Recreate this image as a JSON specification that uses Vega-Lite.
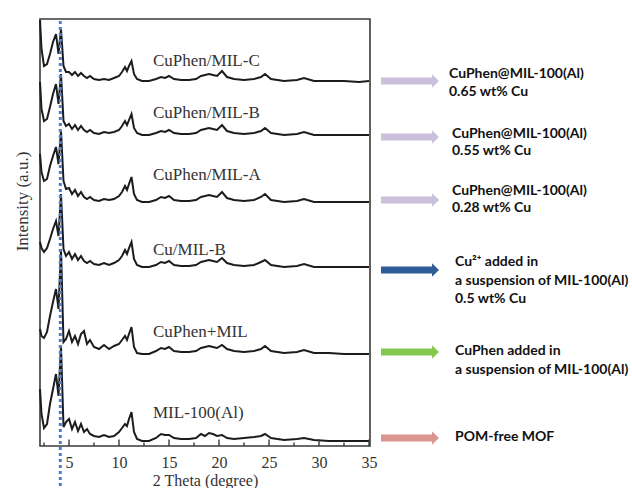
{
  "$schema": "https://vega.github.io/schema/vega-lite/v6.json",
  "padding": {"left": 12, "top": 15, "right": 0, "bottom": 0},
  "bounds": "flush",
  "spacing": 5,
  "config": {"view": {"stroke": null}, "font": "Liberation Serif"},
  "hconcat": [
    {
      "width": 330,
      "height": 427,
      "view": {"stroke": "#3a3a3a", "strokeWidth": 1.6},
      "layer": [
        {
          "data": {"values": [
            {"x":2.1,"c":426,"b":364,"a":292,"u":204,"p":117,"m":57},
            {"x":2.25,"c":397,"b":337,"a":274,"u":198,"p":110,"m":32},
            {"x":2.5,"c":380,"b":325,"a":265,"u":194,"p":108,"m":18},
            {"x":2.8,"c":382,"b":327,"a":267,"u":198,"p":114,"m":22},
            {"x":3.1,"c":392,"b":339,"a":280,"u":207,"p":130,"m":42},
            {"x":3.4,"c":404,"b":352,"a":290,"u":217,"p":144,"m":57},
            {"x":3.7,"c":412,"b":362,"a":299,"u":225,"p":157,"m":72},
            {"x":3.95,"c":392,"b":342,"a":282,"u":210,"p":137,"m":50},
            {"x":4.2,"c":417,"b":372,"a":315,"u":252,"p":197,"m":100},
            {"x":4.45,"c":380,"b":325,"a":265,"u":197,"p":104,"m":19},
            {"x":4.7,"c":374,"b":320,"a":257,"u":190,"p":107,"m":24},
            {"x":5.0,"c":374,"b":322,"a":258,"u":194,"p":115,"m":27},
            {"x":5.3,"c":371,"b":317,"a":252,"u":187,"p":104,"m":17},
            {"x":5.6,"c":374,"b":321,"a":256,"u":192,"p":110,"m":24},
            {"x":5.9,"c":370,"b":316,"a":250,"u":186,"p":102,"m":15},
            {"x":6.2,"c":373,"b":320,"a":254,"u":190,"p":112,"m":22},
            {"x":6.5,"c":370,"b":316,"a":249,"u":185,"p":115,"m":14},
            {"x":6.8,"c":368,"b":314,"a":247,"u":183,"p":102,"m":17},
            {"x":7.1,"c":370,"b":316,"a":249,"u":185,"p":106,"m":12},
            {"x":7.5,"c":367,"b":313,"a":246,"u":182,"p":99,"m":10},
            {"x":8.0,"c":366,"b":312,"a":245,"u":181,"p":97,"m":9},
            {"x":8.5,"c":367,"b":314,"a":247,"u":183,"p":101,"m":11},
            {"x":9.0,"c":366,"b":313,"a":246,"u":181,"p":97,"m":9},
            {"x":9.5,"c":368,"b":314,"a":247,"u":183,"p":100,"m":10},
            {"x":10.0,"c":370,"b":316,"a":250,"u":186,"p":102,"m":14},
            {"x":10.3,"c":374,"b":320,"a":254,"u":190,"p":106,"m":18},
            {"x":10.6,"c":379,"b":325,"a":260,"u":196,"p":110,"m":22},
            {"x":10.8,"c":375,"b":321,"a":256,"u":192,"p":106,"m":20},
            {"x":11.0,"c":380,"b":326,"a":262,"u":198,"p":112,"m":27},
            {"x":11.25,"c":385,"b":332,"a":269,"u":204,"p":119,"m":34},
            {"x":11.5,"c":372,"b":318,"a":252,"u":187,"p":99,"m":14},
            {"x":11.8,"c":367,"b":313,"a":246,"u":181,"p":93,"m":7},
            {"x":12.3,"c":365,"b":311,"a":244,"u":179,"p":92,"m":5},
            {"x":13.0,"c":365,"b":311,"a":244,"u":179,"p":92,"m":5},
            {"x":13.7,"c":367,"b":313,"a":246,"u":181,"p":95,"m":8},
            {"x":14.2,"c":369,"b":315,"a":249,"u":184,"p":98,"m":12},
            {"x":14.6,"c":368,"b":314,"a":248,"u":183,"p":97,"m":11},
            {"x":15.0,"c":370,"b":316,"a":250,"u":185,"p":99,"m":11},
            {"x":15.5,"c":367,"b":313,"a":246,"u":181,"p":95,"m":8},
            {"x":16.2,"c":366,"b":312,"a":245,"u":180,"p":94,"m":7},
            {"x":17.0,"c":366,"b":312,"a":245,"u":180,"p":94,"m":7},
            {"x":17.7,"c":367,"b":313,"a":246,"u":181,"p":95,"m":8},
            {"x":18.2,"c":370,"b":316,"a":249,"u":184,"p":98,"m":12},
            {"x":18.6,"c":371,"b":317,"a":250,"u":185,"p":99,"m":10},
            {"x":19.0,"c":372,"b":318,"a":251,"u":186,"p":100,"m":13},
            {"x":19.4,"c":371,"b":317,"a":250,"u":185,"p":99,"m":12},
            {"x":19.8,"c":370,"b":316,"a":249,"u":184,"p":98,"m":10},
            {"x":20.3,"c":375,"b":321,"a":254,"u":188,"p":101,"m":11},
            {"x":20.8,"c":369,"b":315,"a":248,"u":183,"p":97,"m":8},
            {"x":21.5,"c":367,"b":313,"a":246,"u":181,"p":95,"m":7},
            {"x":22.5,"c":366,"b":312,"a":245,"u":180,"p":94,"m":8},
            {"x":23.5,"c":367,"b":313,"a":246,"u":181,"p":95,"m":9},
            {"x":24.2,"c":369,"b":315,"a":249,"u":184,"p":97,"m":10},
            {"x":24.6,"c":372,"b":318,"a":252,"u":186,"p":100,"m":12},
            {"x":25.2,"c":367,"b":313,"a":246,"u":181,"p":95,"m":8},
            {"x":26.5,"c":365,"b":311,"a":244,"u":179,"p":93,"m":6},
            {"x":27.8,"c":366,"b":312,"a":245,"u":180,"p":94,"m":7},
            {"x":28.5,"c":368,"b":314,"a":247,"u":182,"p":96,"m":8},
            {"x":29.5,"c":365,"b":311,"a":244,"u":179,"p":93,"m":6},
            {"x":31,"c":365,"b":311,"a":244,"u":179,"p":93,"m":5},
            {"x":32.5,"c":365,"b":311,"a":244,"u":179,"p":92,"m":5},
            {"x":34,"c":364,"b":311,"a":244,"u":179,"p":92,"m":5},
            {"x":35,"c":365,"b":311,"a":244,"u":179,"p":92,"m":5}
          ]},
          "transform": [{"fold": ["c","b","a","u","p","m"], "as": ["series","v"]}],
          "mark": {"type": "line", "color": "#1c1c1c", "strokeWidth": 2},
          "encoding": {
            "x": {
              "field": "x", "type": "quantitative",
              "scale": {"domain": [2.1, 35.1], "nice": false, "zero": false},
              "title": "2 Theta (degree)",
              "axis": {
                "values": [5,10,15,20,25,30,35],
                "ticks": false,
                "domain": false, "grid": false,
                "labelOverlap": false, "labelFlush": false,
                "labelFont": "Liberation Serif", "labelFontSize": 16, "labelColor": "#333333",
                "labelPadding": 8,
                "titleFont": "Liberation Serif", "titleFontSize": 16, "titleFontWeight": "normal",
                "titleColor": "#333333", "titlePadding": 2
              }
            },
            "y": {
              "field": "v", "type": "quantitative",
              "scale": {"domain": [0, 427], "nice": false},
              "title": "Intensity (a.u.)",
              "axis": {
                "labels": false, "ticks": false, "domain": false, "grid": false,
                "titleFont": "Liberation Serif", "titleFontSize": 17, "titleFontWeight": "normal",
                "titleColor": "#333333", "titleX": -13, "titleY": 182, "titleBaseline": "alphabetic"
              }
            },
            "detail": {"field": "series"}
          }
        },
        {
          "data": {"values": [
            {"t":2.5,"k":"minor"},{"t":5,"k":"major"},{"t":7.5,"k":"minor"},{"t":10,"k":"major"},
            {"t":12.5,"k":"minor"},{"t":15,"k":"major"},{"t":17.5,"k":"minor"},{"t":20,"k":"major"},
            {"t":22.5,"k":"minor"},{"t":25,"k":"major"},{"t":27.5,"k":"minor"},{"t":30,"k":"major"},
            {"t":32.5,"k":"minor"},{"t":35,"k":"major"}
          ]},
          "mark": {"type": "tick", "orient": "vertical", "thickness": 1.4, "color": "#3a3a3a", "opacity": 1, "clip": true},
          "encoding": {
            "x": {"field": "t", "type": "quantitative", "title": "2 Theta (degree)"},
            "y": {"datum": 0, "type": "quantitative"},
            "size": {"field": "k", "type": "nominal", "scale": {"domain": ["major","minor"], "range": [13, 7]}, "legend": null}
          }
        },
        {
          "data": {"values": [
            {"x":13.4,"v":385,"t":"CuPhen/MIL-C"},
            {"x":13.4,"v":333,"t":"CuPhen/MIL-B"},
            {"x":13.4,"v":271,"t":"CuPhen/MIL-A"},
            {"x":13.4,"v":196,"t":"Cu/MIL-B"},
            {"x":13.4,"v":114,"t":"CuPhen+MIL"},
            {"x":13.4,"v":33,"t":"MIL-100(Al)"}
          ]},
          "mark": {"type": "text", "align": "left", "baseline": "middle", "font": "Liberation Serif", "fontSize": 17, "color": "#333333"},
          "encoding": {
            "x": {"field": "x", "type": "quantitative", "title": "2 Theta (degree)"},
            "y": {"field": "v", "type": "quantitative", "title": "Intensity (a.u.)"},
            "text": {"field": "t"}
          }
        },
        {
          "data": {"values": [{"x": 4.13, "top": 425, "bottom": -46}]},
          "mark": {"type": "rule", "color": "#4A7FD0", "strokeWidth": 3, "strokeDash": [3, 3]},
          "encoding": {
            "x": {"field": "x", "type": "quantitative", "title": "2 Theta (degree)"},
            "y": {"field": "top", "type": "quantitative", "title": "Intensity (a.u.)"},
            "y2": {"field": "bottom"}
          }
        }
      ]
    },
    {
      "width": 252,
      "height": 427,
      "view": {"stroke": null},
      "layer": [
        {
          "data": {"values": [
            {"k":"lav","x":35,"v":365},
            {"k":"lav","x":35,"v":309},
            {"k":"lav","x":35,"v":246},
            {"k":"blue","x":35,"v":176},
            {"k":"green","x":35,"v":94},
            {"k":"red","x":35,"v":8}
          ]},
          "mark": {"type": "point", "shape": "M-1,-0.12L0.76,-0.12L0.76,-0.23L1,0L0.76,0.23L0.76,0.12L-1,0.12Z", "size": 3364, "filled": true, "opacity": 1, "strokeWidth": 0},
          "encoding": {
            "x": {"field": "x", "type": "quantitative", "scale": {"domain": [0, 252], "nice": false}, "axis": null},
            "y": {"field": "v", "type": "quantitative", "scale": {"domain": [0, 427], "nice": false}, "axis": null},
            "color": {"field": "k", "type": "nominal", "scale": {"domain": ["lav","blue","green","red"], "range": ["#CBC0DB","#2F5C96","#86C84F","#DB9591"]}, "legend": null}
          }
        },
        {
          "data": {"values": [
            {"x":74,"v":372,"t":"CuPhen@MIL-100(Al)"},
            {"x":74,"v":354,"t":"0.65 wt% Cu"},
            {"x":77,"v":312,"t":"CuPhen@MIL-100(Al)"},
            {"x":77,"v":295,"t":"0.55 wt% Cu"},
            {"x":77,"v":255,"t":"CuPhen@MIL-100(Al)"},
            {"x":77,"v":238,"t":"0.28 wt% Cu"},
            {"x":80,"v":184,"t":"Cu²⁺ added in"},
            {"x":80,"v":165,"t":"a suspension of MIL-100(Al)"},
            {"x":80,"v":147,"t":"0.5 wt% Cu"},
            {"x":80,"v":95,"t":"CuPhen added in"},
            {"x":80,"v":76,"t":"a suspension of MIL-100(Al)"},
            {"x":80,"v":9,"t":"POM-free MOF"}
          ]},
          "mark": {"type": "text", "align": "left", "baseline": "middle", "font": "Lato", "fontWeight": "bold", "fontSize": 14, "color": "#111111"},
          "encoding": {
            "x": {"field": "x", "type": "quantitative", "axis": null},
            "y": {"field": "v", "type": "quantitative", "axis": null},
            "text": {"field": "t"}
          }
        }
      ]
    }
  ]
}
